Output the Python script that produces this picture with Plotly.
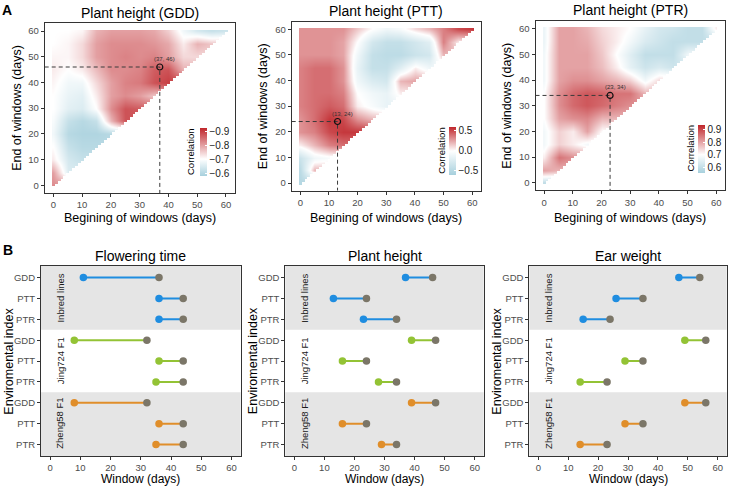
import numpy as np
import plotly.graph_objects as go

W, H = 729, 486
FONT = "Liberation Sans, Arial, Helvetica, sans-serif"
TICK_COLOR = "#4D4D4D"
FRAME = "#333333"

# ------------------------------------------------------------------ Panel A data
window_days = [0, 5, 10, 15, 20, 25, 30, 35, 40, 45, 50, 55, 60]   # begin / end grid (days)

# rows: end of window = 0,5,...,60 ; values for begin = 0,5,...,end
gdd_corr_rows = [
    [-0.82],
    [-0.80, -0.65],
    [-0.72, -0.64, -0.62],
    [-0.70, -0.62, -0.60, -0.60],
    [-0.68, -0.60, -0.59, -0.59, -0.60],
    [-0.69, -0.62, -0.60, -0.62, -0.78, -0.88],
    [-0.70, -0.66, -0.65, -0.70, -0.82, -0.88, -0.87],
    [-0.70, -0.67, -0.66, -0.72, -0.80, -0.82, -0.80, -0.76],
    [-0.71, -0.68, -0.68, -0.74, -0.80, -0.83, -0.84, -0.88, -0.90],
    [-0.72, -0.70, -0.72, -0.77, -0.82, -0.82, -0.83, -0.87, -0.88, -0.78],
    [-0.71, -0.71, -0.74, -0.80, -0.82, -0.83, -0.82, -0.83, -0.80, -0.74, -0.74],
    [-0.70, -0.71, -0.74, -0.80, -0.82, -0.82, -0.82, -0.81, -0.79, -0.72, -0.78, -0.76],
    [-0.70, -0.70, -0.71, -0.78, -0.80, -0.80, -0.80, -0.79, -0.75, -0.68, -0.64, -0.62, -0.63],
]
ptt_corr_rows = [
    [-0.50],
    [-0.45, 0.20],
    [-0.35, -0.10, -0.05],
    [0.05, 0.20, 0.35, 0.40],
    [0.30, 0.35, 0.50, 0.55, 0.55],
    [0.30, 0.40, 0.55, 0.50, 0.30, 0.20],
    [0.35, 0.40, 0.45, 0.40, 0.05, -0.05, -0.15],
    [0.35, 0.40, 0.40, 0.35, 0.00, -0.10, -0.15, 0.05],
    [0.35, 0.40, 0.40, 0.30, -0.10, -0.25, -0.30, 0.20, 0.25],
    [0.35, 0.40, 0.40, 0.30, -0.15, -0.40, -0.40, -0.20, 0.05, -0.10],
    [0.30, 0.30, 0.30, 0.25, -0.10, -0.40, -0.45, -0.45, -0.35, -0.30, 0.20],
    [0.30, 0.30, 0.30, 0.25, 0.00, -0.30, -0.40, -0.40, -0.30, -0.20, 0.35, 0.05],
    [0.30, 0.30, 0.30, 0.30, 0.15, 0.00, -0.10, -0.05, 0.10, 0.20, 0.35, 0.50, 0.55],
]
ptr_corr_rows = [
    [0.60],
    [0.80, 0.78],
    [0.72, 0.85, 0.82],
    [0.68, 0.75, 0.72, 0.68],
    [0.68, 0.75, 0.72, 0.80, 0.70],
    [0.70, 0.80, 0.82, 0.83, 0.78, 0.78],
    [0.70, 0.82, 0.86, 0.88, 0.86, 0.84, 0.82],
    [0.70, 0.82, 0.86, 0.88, 0.87, 0.85, 0.85, 0.78],
    [0.68, 0.80, 0.82, 0.82, 0.80, 0.78, 0.75, 0.68, 0.74],
    [0.68, 0.80, 0.80, 0.80, 0.77, 0.72, 0.66, 0.62, 0.64, 0.62],
    [0.68, 0.80, 0.80, 0.80, 0.76, 0.70, 0.65, 0.60, 0.60, 0.60, 0.68],
    [0.67, 0.80, 0.80, 0.79, 0.75, 0.72, 0.68, 0.64, 0.62, 0.60, 0.60, 0.60],
    [0.67, 0.80, 0.80, 0.78, 0.74, 0.72, 0.70, 0.66, 0.63, 0.62, 0.60, 0.60, 0.72],
]
heat_titles = ["Plant height (GDD)", "Plant height (PTT)", "Plant height (PTR)"]
opt_begin = [37, 13, 23]
opt_end = [46, 24, 34]
cbar_ticks = [[-0.9, -0.8, -0.7, -0.6], [0.5, 0.0, -0.5], [0.9, 0.8, 0.7, 0.6]]
cbar_limits = [(-0.927, -0.576), (-0.6, 0.6), (0.556, 0.934)]
cbar_mid = [-0.7, 0.0, 0.7]
axis_ticks = [0, 10, 20, 30, 40, 50, 60]

# ------------------------------------------------------------------ Panel B data
indices = ["GDD", "PTT", "PTR"]
populations = ["Inbred lines", "Jing724 F1", "Zheng58 F1"]
traits = ["Flowering time", "Plant height", "Ear weight"]
window_start = {
    "Flowering time": [11, 36, 36, 8, 36, 35, 8, 36, 35],
    "Plant height": [37, 13, 23, 39, 16, 28, 39, 16, 29],
    "Ear weight": [47, 26, 15, 49, 29, 14, 49, 29, 14],
}
window_end = {
    "Flowering time": [36, 44, 44, 32, 44, 44, 32, 44, 44],
    "Plant height": [46, 24, 34, 47, 24, 34, 47, 24, 34],
    "Ear weight": [54, 35, 24, 56, 35, 23, 56, 35, 23],
}

# ------------------------------------------------------------------ styling
LOW, MID, HIGH = "#A7D0DD", "#FFFFFF", "#C0262B"
pop_colors = ["#1F8DE0", "#93C335", "#E08E2A"]
end_color = "#7B7668"
band_color = "#E5E5E5"

X_RANGE = [-3, 63]

# boxes in pixels: (left, right, top, bottom)
A_boxes = [(44.7, 234.6, 23.3, 193.0), (291.7, 480.8, 21.6, 190.7), (535.5, 724.8, 21.0, 190.4)]
A_cbar = [(200, 152.3), (449, 150.5), (698, 149.0)]
A_cbar_title_x = [190.7, 441.3, 689.5]
A_ytitle_x = [16.7, 263.0, 507.0]
A_title_y = [12.7, 11.0, 10.0]
B_boxes = [(41.0, 240.7, 265.7, 456.0), (285.3, 483.7, 265.7, 456.0), (529.3, 726.7, 265.7, 456.0)]
B_ytitle_x = [8.8, 253.3, 496.8]


def xp(px):
    return px / W


def yp(py):
    return 1 - py / H


def fmt(v):
    return f"{v:.1f}".replace("-", "\u2212")


fig = go.Figure()
annotations = []
shapes = []


def ann(text, x, y, size, angle=0, bold=False, color="black", xanchor="center"):
    annotations.append(dict(
        text=f"<b>{text}</b>" if bold else text, x=xp(x), y=yp(y), xref="paper", yref="paper",
        showarrow=False, textangle=angle, xanchor=xanchor, yanchor="middle",
        font=dict(family=FONT, size=size, color=color)))


layout_axes = {}

# ------------------------------------------------------------------ Panel A
fine = np.arange(X_RANGE[0], X_RANGE[1] + 1)
FB, FE = np.meshgrid(fine, fine)
# cells outside the windows (begin after end) are covered in white
mask = np.where((FB > FE) | (FB < window_days[0]) | (FE > window_days[-1]), 1.0, np.nan)

for k, rows in enumerate([gdd_corr_rows, ptt_corr_rows, ptr_corr_rows]):
    n = len(window_days)
    z = np.full((n, n), np.nan)
    for i, row in enumerate(rows):
        z[i, :len(row)] = row
        # hidden cells (begin > end, covered by the white mask) repeat the diagonal value
        z[i, len(row):] = row[-1]
    lo, hi = cbar_limits[k]
    ticks = cbar_ticks[k]
    sign = -1 if k == 0 else 1          # GDD: strongest (most negative) correlation shown on top
    zplot = sign * z
    zmin, zmax = sorted([sign * lo, sign * hi])
    midpos = (sign * cbar_mid[k] - zmin) / (zmax - zmin)
    cs = [[0, LOW], [midpos, MID], [1, HIGH]]
    ax = "" if k == 0 else str(k + 1)
    L, R, T, B = A_boxes[k]
    cx, cy = A_cbar[k]
    fig.add_trace(go.Heatmap(
        x=window_days, y=window_days, z=zplot, zsmooth="best", colorscale=cs,
        zmin=zmin, zmax=zmax, xaxis="x" + ax, yaxis="y" + ax, hoverinfo="skip",
        colorbar=dict(x=xp(cx), xanchor="left", y=yp(cy), yanchor="middle", len=48, lenmode="pixels",
                      thickness=7, outlinewidth=0, xpad=0, ypad=0,
                      tickvals=[sign * t for t in ticks], ticktext=[fmt(t) for t in ticks],
                      ticks="inside", ticklen=2, tickcolor="white",
                      tickfont=dict(family=FONT, size=10, color="#1A1A1A"))))
    fig.add_trace(go.Heatmap(
        x=fine, y=fine, z=mask, colorscale=[[0, "white"], [1, "white"]], showscale=False,
        xaxis="x" + ax, yaxis="y" + ax, hoverinfo="skip"))
    b, e = opt_begin[k], opt_end[k]
    fig.add_trace(go.Scatter(
        x=[X_RANGE[0], b, b], y=[e, e, X_RANGE[0]], mode="lines", xaxis="x" + ax, yaxis="y" + ax,
        line=dict(color="#3A3A3A", width=1, dash="4px,3px"), showlegend=False, hoverinfo="skip"))
    fig.add_trace(go.Scatter(
        x=[b], y=[e], mode="markers", xaxis="x" + ax, yaxis="y" + ax,
        marker=dict(symbol="circle-open", size=6, color="#111111", line=dict(width=1.2)),
        showlegend=False, hoverinfo="skip"))
    annotations.append(dict(text=f"({b}, {e})", x=b, y=e, xref="x" + ax, yref="y" + ax,
                            showarrow=False, xshift=5, yshift=8,
                            font=dict(family=FONT, size=6, color="#333333")))
    common = dict(range=X_RANGE, tickvals=axis_ticks, showgrid=False, zeroline=False,
                  showline=True, mirror=True, linecolor=FRAME, linewidth=1,
                  ticks="outside", ticklen=3, tickcolor=FRAME, tickwidth=1,
                  tickfont=dict(family=FONT, size=9.5, color=TICK_COLOR))
    layout_axes["xaxis" + ax] = dict(domain=[xp(L), xp(R)], anchor="y" + ax, **common)
    layout_axes["yaxis" + ax] = dict(domain=[yp(B), yp(T)], anchor="x" + ax, **common)
    ann(heat_titles[k], (L + R) / 2, A_title_y[k], 14)
    ann("Begining of windows (days)", (L + R) / 2, 217.8, 12.5)
    ann("End of windows (days)", A_ytitle_x[k], (T + B) / 2, 12.5, angle=-90)
    ann("Correlation", A_cbar_title_x[k], cy, 9.5, angle=-90)

ann("A", 7, 9.5, 14, bold=True)
ann("B", 8, 249.7, 14, bold=True)

# ------------------------------------------------------------------ Panel B
n_idx = len(indices)
ypos = [g * n_idx + i for g in range(len(populations)) for i in range(n_idx)]
Y_TOP, Y_BOTTOM = -0.57, ypos[-1] + 0.55

for k, trait in enumerate(traits):
    ax = str(k + 4)
    L, R, T, B = B_boxes[k]
    s_vals, e_vals = window_start[trait], window_end[trait]
    for g, pop in enumerate(populations):
        rows = range(g * n_idx, (g + 1) * n_idx)
        lx, ly = [], []
        for r in rows:
            lx += [s_vals[r], e_vals[r], None]
            ly += [ypos[r], ypos[r], None]
        fig.add_trace(go.Scatter(x=lx, y=ly, mode="lines", xaxis="x" + ax, yaxis="y" + ax,
                                 line=dict(color=pop_colors[g], width=2), showlegend=False, hoverinfo="skip"))
        fig.add_trace(go.Scatter(x=[e_vals[r] for r in rows], y=[ypos[r] for r in rows], mode="markers",
                                 xaxis="x" + ax, yaxis="y" + ax, marker=dict(size=7.5, color=end_color),
                                 showlegend=False, hoverinfo="skip"))
        fig.add_trace(go.Scatter(x=[s_vals[r] for r in rows], y=[ypos[r] for r in rows], mode="markers",
                                 xaxis="x" + ax, yaxis="y" + ax, marker=dict(size=7.5, color=pop_colors[g]),
                                 showlegend=False, hoverinfo="skip"))
        if g != 1:
            y0 = g * n_idx - 0.5 if g > 0 else Y_TOP
            y1 = g * n_idx + n_idx - 0.5 if g < len(populations) - 1 else Y_BOTTOM
            shapes.append(dict(type="rect", xref=f"x{ax} domain", yref="y" + ax, x0=0, x1=1,
                               y0=y0, y1=y1, fillcolor=band_color, line=dict(width=0), layer="below"))
        annotations.append(dict(text=pop, x=0.058, y=g * n_idx + (n_idx - 1) / 2, xref=f"x{ax} domain",
                                yref="y" + ax, showarrow=False, textangle=-90,
                                font=dict(family=FONT, size=9.5, color="#1A1A1A")))
    common = dict(showgrid=False, zeroline=False, showline=True, mirror=True, linecolor=FRAME,
                  linewidth=1, ticks="outside", ticklen=3, tickcolor=FRAME, tickwidth=1,
                  tickfont=dict(family=FONT, size=9.5, color=TICK_COLOR))
    layout_axes["xaxis" + ax] = dict(domain=[xp(L), xp(R)], anchor="y" + ax, range=X_RANGE,
                                     tickvals=axis_ticks, **common)
    layout_axes["yaxis" + ax] = dict(domain=[yp(B), yp(T)], anchor="x" + ax, range=[Y_BOTTOM, Y_TOP],
                                     tickvals=ypos, ticktext=[indices[i % n_idx] for i in range(len(ypos))],
                                     **common)
    ann(trait, (L + R) / 2, 255.8, 14)
    ann("Window (days)", (L + R) / 2, 478.8, 12)
    ann("Enviromental index", B_ytitle_x[k], (T + B) / 2, 12.5, angle=-90)

fig.update_layout(
    width=W, height=H, margin=dict(l=0, r=0, t=0, b=0),
    paper_bgcolor="white", plot_bgcolor="white", showlegend=False,
    font=dict(family=FONT), annotations=annotations, shapes=shapes, **layout_axes)

fig.write_html("out.html")
